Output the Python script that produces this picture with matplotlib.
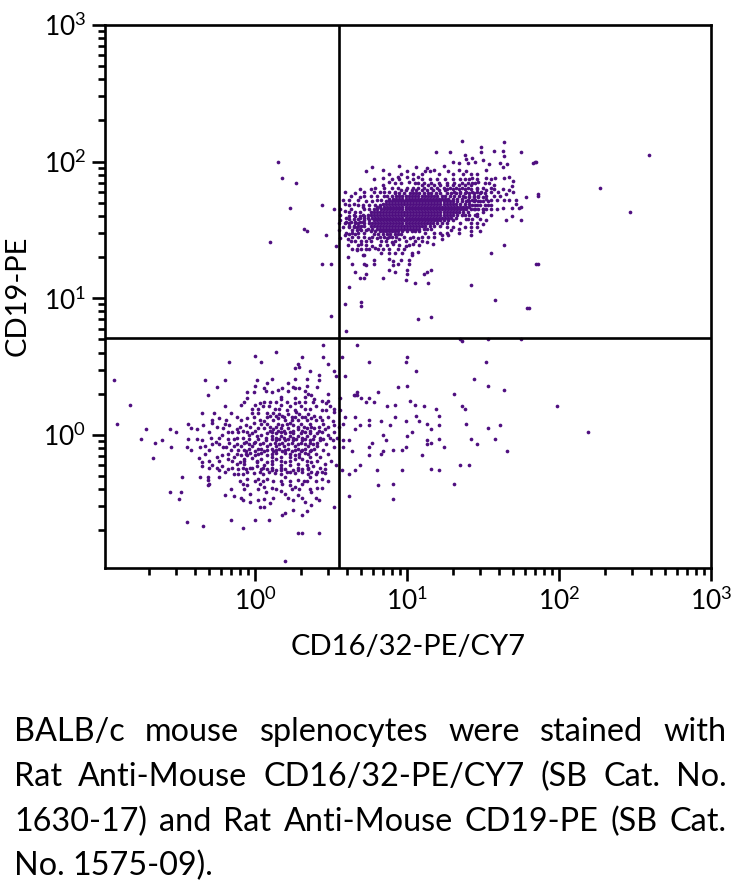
import numpy as np
import matplotlib
matplotlib.use("Agg")
import matplotlib.pyplot as plt
from matplotlib.ticker import LogLocator, NullFormatter, FixedFormatter

CORE_ROWS = {
 181:[100,104,107,111,116,120],
 179:[96,99,103,106,110,113,117,121,125],
 177:[92,95,98,102,104,106,108,111,114,116,119,122,126,129],
 175:[90,93,95,97,99,101,103,105,107,110,112,114,116,118,120,123,125,128,131,134],
 173:[88,91,93,95,97,99,101,103,105,107,109,111,113,115,117,119,121,123,125,127,130,133,136],
 171:[86,88,90,92,94,96,98,100,102,104,106,108,110,112,114,116,118,120,122,124,126,128,130,133,136,139],
 169:[84,86,88,90,92,94,96,98,100,102,104,106,108,110,112,114,116,118,120,122,124,126,128,130,132,135,138,141],
 167:[80,82,85,87,89,91,93,95,97,99,101,103,105,107,109,111,113,115,117,119,121,123,125,127,129,131,133,135,137,139,141],
 165:[78,80,83,85,87,89,91,93,95,97,99,101,103,105,107,109,111,113,115,117,119,121,123,125,127,129,131,133,135,137,139,142],
 163:[76,78,80,82,84,86,88,90,92,94,96,98,100,102,104,106,108,110,112,114,116,118,120,122,124,126,128,130,132,134,137,140],
 161:[74,76,78,80,82,84,86,88,90,92,94,96,98,100,102,104,106,108,110,112,114,116,118,120,122,124,126,128,130,133,136],
 159:[72,74,77,79,81,83,85,87,89,91,93,95,97,99,101,103,105,107,109,111,113,115,117,119,121,123,125,127,129,132],
 157:[72,75,78,80,82,84,86,88,90,92,94,96,98,100,102,104,106,108,110,112,114,116,118,120,122,124,127,130],
 155:[72,75,77,79,81,83,85,87,89,91,93,95,97,99,101,103,105,107,109,111,113,115,117,120,123,126],
 153:[72,76,78,80,82,84,86,88,90,92,94,96,98,100,102,104,106,108,110,112,115,118,122],
 151:[74,77,80,82,84,86,88,90,92,94,96,98,100,102,104,106,108,111,113,116],
 149:[76,79,82,84,86,88,90,92,94,97,100,103,105,108],
 147:[78,81,84,87,89,92,94,96],
 145:[82,85,88,90],
}

MID_ROWS = {
 191:[88,96,104,110,121,130,137,142],
 187:[95,104,110,115,120,125,130,135,141,146,155],
 184:[92,96,105,111,116,121,126,131,136,140,145,154],
 183:[110,114,118,122,126,130,134,138,142],
 181:[79,85,90,94,124,128,132,136,140,146,150,155],
 180:[126,130,134,138,142,146],
 178:[72,78,85,88,92,131,135,139,143,146,155,160],
 177:[132,135,138,141,144,148,151],
 175:[63,72,76,80,85,87,137,141,144,147,152,157,161],
 174:[138,141,144,147,150],
 172:[62,68,80,83,140,143,145,155,167],
 171:[141,144,147,150,153],
 168:[62,68,71,75,79,82,145,155,143,146,148,151,153],
 165:[56,63,72,75,145,155,159,144,147,150,152],
 161:[56,65,71,138,141,145,155],
 160:[62,66,69,72],
 158:[62,68,140,143,148],
 156:[60,63,66,69,71],
 155:[55,62,66,68,135,142,146],
 153:[62,65,68,70],
 152:[58,62,67,126,130,142],
 150:[64,67,70,73],
 148:[60,64,68,72,112,118,122,126,134],
 145:[64,68,72,77,93,98,104,110,114,118],
 142:[63,70,73,76,83,86,92,99,105,110],
 139:[61,68,73,82,87,95,101,108],
 136:[73,75,81,88,98],
}

LOWER_ROWS = {
 24:[10,14,21,29,38],
 21:[5,9,23,30,40,49],
 13:[-12,-1,8,19,26,33,43,48],
 6:[-25,-10,-3,14,28,48,55],
 2:[-18,-11,-5,11,17,23,33,44,52],
 -2:[-29,-24,-12,-8,7,14,19,25,31,43,49,54],
 -7:[-24,-12,-4,3,10,16,22,28,33,38,47],
 -11:[-30,-16,-11,-7,8,14,20,26,31,37,45],
 -14:[-18,-12,-6,2,11,23,29,35,40,48],
 -19:[-30,-24,-15,-7,1,11,17,23,34,41,50],
 -24:[-30,-25,-15,-8,-2,5,11,17,28,35,43],
 -27:[-20,-5,3,9,21,31,37,44],
 -34:[-10,0,5,12,17,23,32,40,48],
 -40:[-7,2,14,24,29,36],
 -46:[-9,12,22,31,40],
}

UPPER_RIGHT = [
(136,215),(149,211),(164,214),(119,207),(128,207),(138,205),(149,207),(157,208),(163,208),(175,207),
(164,204),(143,203),(139,202),(130,200),(134,199),(140,199),(145,200),(150,201),(161,199),(166,198),
(154,198),(185,200),(183,199),(77,196),(95,197),(73,193),(84,194),(106,196),(124,197),(113,195),
(163,196),(152,194),(146,191),(100,193),(78,187),(84,188),(90,187),(94,189),(100,189),(107,189),
(112,193),(115,193),(118,194),(127,193),(134,194),(139,193),(164,188),(167,189),(158,188),(152,188),
(143,188),(138,187),(170,186),(88,185),(84,183),(101,185),(107,184),(147,185),(151,184),(157,183),
(143,184),(76,180),(69,180),(66,177),(59,178),(163,180),(169,182),(167,179),(170,178),(165,176),
(157,180),(152,179),(149,178),(69,174),(82,178),(186,176),(178,174),(172,172),(159,172),(164,172),
(152,173),(148,171),(58,172),(65,169),(59,169),(73,171),(77,171),(172,169),(175,167),(174,166),
(163,166),(169,166),(150,165),(146,162),(150,163),(52,165),(59,164),(62,163),(66,163),(69,163),
(71,167),(169,160),(165,157),(175,157),(146,160),(139,158),(152,157),(150,154),(60,159),(65,158),
(69,159),(56,157),(59,155),(65,152),(55,150),(69,151),(146,152),(142,149),(148,149),(138,152),
(134,151),(129,150),(142,146),(123,146),(127,146),(123,143),(117,140),(59,146),(62,147),(66,147),
(56,144),(61,143),(66,142),(75,144),(80,144),(87,144),(90,141),(95,143),(102,144),(107,144),
(113,141),(99,138),(104,140),(70,140),(64,136),(67,136),(70,136),(67,135),(77,138),(79,137),
(84,136),(91,140),(94,136),(83,133),(88,133),(92,133),(97,133),(103,133),(103,132),(107,134),
(71,132),(72,132),(61,130),(88,129),(91,127),(96,128),(101,128),(64,125),(72,125),(73,124),
(78,128),(78,125),(94,125),(101,125),(91,124),(88,121),(92,119),(100,121),(100,118),(116,121),
(113,119),(111,118),(66,119),(73,118),(69,115),(72,115),(84,115),(99,113),(105,111),(114,111),
(142,110),(62,108),(155,133),(164,139),(185,125),(50,125),(59,96),(70,97),(70,94),(158,99),(180,93),
(259,205),(227,181),(247,163),(184,200),(186,175),(179,93),(186,125),(107,85),(116,86),(60,76),
]

UPPER_LEFT = [(15,200),(18,188),(10,141),(32,151),(34,149),(44,125),(50,87),(27,184),(44,168),(23,166),(47,146),(53,138)]

LOWER_RIGHT = [
(135,70),(153,70),(175,70),(136,69),
(67,66),(100,57),(57,57),(75,53),(99,53),(152,53),(106,47),(59,43),(144,41),(100,36),(153,36),(94,35),
(164,33),(67,31),(81,31),(131,30),(65,29),(66,29),(67,29),(70,27),(75,27),(56,27),(73,24),(78,24),
(102,25),(92,22),(105,22),(87,21),(111,21),(136,21),(119,19),(138,19),(199,21),(56,18),(106,14),(121,14),
(59,13),(66,13),(92,13),(75,11),(83,10),(99,10),(108,10),(58,8),(113,8),(139,8),(69,7),(75,7),
(89,7),(121,7),(153,5),(161,7),(66,4),(116,4),(103,2),(219,2),(84,0),(100,-1),(121,-3),(142,-3),
(158,-3),(58,-4),(62,-4),(86,-4),(113,-4),(77,-6),(116,-6),(113,-7),(146,-7),(58,-9),(75,-9),(99,-9),
(124,-9),(91,-11),(97,-11),(64,-12),(84,-12),(166,-12),(83,-14),(75,-15),(110,-15),(69,-22),(135,-22),
(141,-22),(116,-25),(57,-26),(66,-26),(80,-26),(97,-26),(121,-26),(62,-29),(81,-37),(91,-36),(131,-36),
(62,-45),(91,-47),
]

LOWER_LEFT = [
(45,66),(14,61),(0,58),(31,57),(45,57),(-17,53),(4,53),(28,52),(29,50),(48,52),(26,49),(36,47),(52,47),
(42,44),(11,41),(26,41),(34,41),(53,43),(-93,40),(-33,40),(-20,40),(1,40),(42,40),(8,38),(22,38),(25,35),
(34,36),(-25,35),(0,36),(41,35),(6,34),(18,34),(26,34),(29,34),(-5,31),(-1,31),(7,32),(11,31),(15,33),
(22,32),(33,32),(35,30),(-31,29),(-5,27),(17,28),(26,27),(33,28),(37,29),(48,30),(39,26),(48,25),(44,25),
(-82,22),(-20,21),(-9,22),(-7,24),(0,22),(3,23),(6,24),(17,26),(17,22),(26,23),(33,24),(47,23),(-2,19),
(2,19),(13,19),(16,19),(21,18),(26,18),(33,19),(36,19),(44,18),(52,19),(47,18),(-35,16),(-27,16),(-16,16),
(-2,16),(2,16),(8,16),(12,16),(16,15),(22,15),(27,17),(29,15),(35,15),(39,14),(52,17),(-5,12),(-24,12),
(-28,11),(-28,9),(-19,11),(-9,11),(3,11),(6,10),(12,11),(15,12),(20,11),(24,11),(28,11),(34,11),(40,11),
(44,11),(51,10),(-91,8),(-44,8),(-34,7),(-20,8),(-17,7),(-6,7),(4,8),(8,8),(15,8),(21,8),(25,7),(30,8),
(36,8),(45,8),(52,7),(-42,5),(-72,4),(-56,4),(-38,4),(-21,5),(-12,4),(-15,2),(-8,3),(2,5),(6,5),(12,4),
(17,5),(22,5),(28,4),(34,5),(39,5),(46,4),(-52,2),(-30,2),(-22,0),(-2,1),(4,0),(8,1),(14,1),(20,1),(25,1),
(30,1),(36,1),(41,1),(48,0),(-75,-3),(-44,-3),(-38,-3),(-18,-3),(-14,-3),(-4,-3),(2,-3),(11,-3),(16,-3),
(22,-3),(27,-3),(33,-3),(38,-3),(45,-3),(-61,-4),(-35,-4),(-66,-6),(-26,-5),(-28,-7),(-33,-8),(-17,-6),
(-7,-6),(-1,-6),(5,-6),(13,-6),(18,-6),(24,-6),(30,-6),(36,-6),(41,-6),(51,-4),(-55,-9),(-45,-9),(-36,-9),
(-21,-9),(-19,-9),(-14,-8),(-4,-10),(2,-10),(4,-10),(11,-10),(16,-10),(22,-10),(28,-10),(33,-10),(39,-10),
(52,-9),(-42,-11),(-33,-14),(-22,-15),(-25,-16),(-14,-16),(-9,-15),(-3,-13),(4,-13),(8,-15),(14,-13),
(20,-13),(26,-15),(33,-13),(43,-16),(-67,-17),(-37,-17),(-35,-20),(-18,-18),(-10,-20),(-2,-17),(4,-18),
(8,-20),(14,-18),(20,-20),(26,-18),(31,-18),(37,-20),(46,-21),(-35,-23),(-28,-22),(-22,-23),(-18,-25),
(-11,-25),(-6,-25),(1,-23),(8,-25),(14,-26),(20,-25),(25,-26),(31,-25),(38,-23),(41,-27),(53,-22),(46,-25),
(-24,-26),(-14,-29),(-11,-29),(-8,-29),(-1,-28),(5,-29),(13,-28),(17,-29),(26,-28),(35,-29),(40,-29),(46,-28),
(-48,-31),(-36,-31),(-31,-31),(-24,-31),(-5,-32),(2,-32),(8,-32),(20,-31),(28,-33),(36,-31),(44,-32),(-31,-33),
(-30,-36),(-31,-37),(-8,-36),(-5,-37),(3,-36),(6,-38),(11,-39),(18,-36),(23,-37),(26,-38),(31,-36),(34,-34),
(41,-39),(44,-39),(-56,-42),(-49,-42),(-20,-44),(-16,-40),(-14,-45),(-3,-43),(7,-42),(17,-41),(20,-43),
(28,-44),(37,-42),(-50,-47),(-8,-48),(-3,-49),(2,-48),(6,-47),(10,-50),(25,-48),(33,-49),(42,-48),(6,-53),
(3,-53),(37,-51),(52,-53),(25,-55),(34,-56),(18,-59),(20,-57),(31,-59),(-45,-64),(-34,-67),(-16,-62),(0,-62),
(9,-62),(-8,-68),(28,-72),(31,-72),(42,-72),(20,-92),
(10,14),(14,14),(18,14),(24,13),(31,13),(37,12),(-1,9),(10,6),(18,7),(23,9),(32,6),(37,6),(42,6),
(0,3),(10,3),(15,3),(19,3),(25,3),(31,3),(36,3),(42,3),(-4,0),(1,-1),(11,-1),(17,-1),(23,-1),(28,-1),(34,-1),(39,-1),
(-6,-5),(0,-5),(7,-4),(14,-4),(20,-4),(25,-4),(31,-4),(36,-4),(43,-4),(-9,-8),(-2,-8),(8,-8),(14,-8),(19,-8),(26,-8),(35,-8),(41,-8),
(-6,-12),(0,-12),(6,-12),(12,-12),(18,-12),(24,-12),(30,-12),(36,-12),(-7,-18),(-5,-15),(0,-15),(11,-16),(17,-16),(23,-16),(29,-16),(36,-16),
(-12,-21),(-7,-21),(1,-20),(6,-22),(11,-21),(17,-22),(23,-22),(28,-21),(34,-22),(-3,-24),(4,-25),(11,-26),(17,-26),(23,-27),(28,-26),(35,-25),
]

X_TICKS = [1, 10, 100, 1000]
X_TICK_LABELS = ["$10^{0}$", "$10^{1}$", "$10^{2}$", "$10^{3}$"]
Y_TICKS = [1, 10, 100, 1000]
Y_TICK_LABELS = ["$10^{0}$", "$10^{1}$", "$10^{2}$", "$10^{3}$"]
X_LABEL = "CD16/32-PE/CY7"
Y_LABEL = "CD19-PE"
X_GATE = 3.57
Y_GATE = 5.1
CAPTION = ["BALB/c mouse splenocytes were stained with",
           "Rat Anti-Mouse CD16/32-PE/CY7 (SB Cat. No.",
           "1630-17) and Rat Anti-Mouse CD19-PE (SB Cat.",
           "No. 1575-09)."]

plt.rcParams['font.family'] = ['Lato', 'DejaVu Sans']
plt.rcParams['mathtext.default'] = 'regular'
W, H = 739, 886
fig = plt.figure(figsize=(W/100, H/100), dpi=100)
L, R, T, B = 105, 711, 25, 568
ax = fig.add_axes([L/W, 1-B/H, (R-L)/W, (B-T)/H])

row_pts = [(x, y) for rows in (CORE_ROWS, MID_ROWS, LOWER_ROWS) for y, xs in rows.items() for x in xs]
pts = row_pts + UPPER_RIGHT + UPPER_LEFT + LOWER_RIGHT + LOWER_LEFT
xh = np.array([p[0] for p in pts], float)
yh = np.array([p[1] for p in pts], float)
ax.scatter(10**(xh/100), 10**(yh/100), s=7.0, c='#4f0f80', linewidths=0, zorder=2)

ax.set_xscale('log'); ax.set_yscale('log')
ax.set_xlim(0.103, 1000); ax.set_ylim(0.106, 1000)
ax.axvline(X_GATE, color='black', lw=1.9, zorder=3)
ax.axhline(Y_GATE, color='black', lw=1.9, zorder=3)
for s in ax.spines.values():
    s.set_linewidth(1.9)
for axis, ticks, labels in ((ax.xaxis, X_TICKS, X_TICK_LABELS), (ax.yaxis, Y_TICKS, Y_TICK_LABELS)):
    axis.set_major_locator(plt.FixedLocator(ticks))
    axis.set_major_formatter(FixedFormatter(labels))
    axis.set_minor_locator(LogLocator(base=10, subs=range(2, 10), numticks=12))
    axis.set_minor_formatter(NullFormatter())
ax.tick_params(which='major', length=9.5, width=1.9, labelsize=19, pad=4)
ax.tick_params(which='minor', length=5, width=1.9)

fig.text(408/W, 1-647/H, X_LABEL, ha='center', va='center', fontsize=21)
fig.text(18/W, 1-296/H, Y_LABEL, ha='center', va='center', rotation=90, fontsize=21)

# justified caption
fig.canvas.draw()
rend = fig.canvas.get_renderer()
baselines = [741, 786, 831, 875]
left, right = 14, 727
for i, (line, yb) in enumerate(zip(CAPTION, baselines)):
    words = line.split()
    ts = [fig.text(0, 1-yb/H, w, ha='left', va='baseline', fontsize=23.3) for w in words]
    ws = [t.get_window_extent(rend).width for t in ts]
    gap = (right-left-sum(ws))/(len(words)-1) if i < 3 else 7.5
    xp = left
    for t, w in zip(ts, ws):
        t.set_x(xp/W)
        xp += w+gap

fig.savefig('out.png', dpi=100)
